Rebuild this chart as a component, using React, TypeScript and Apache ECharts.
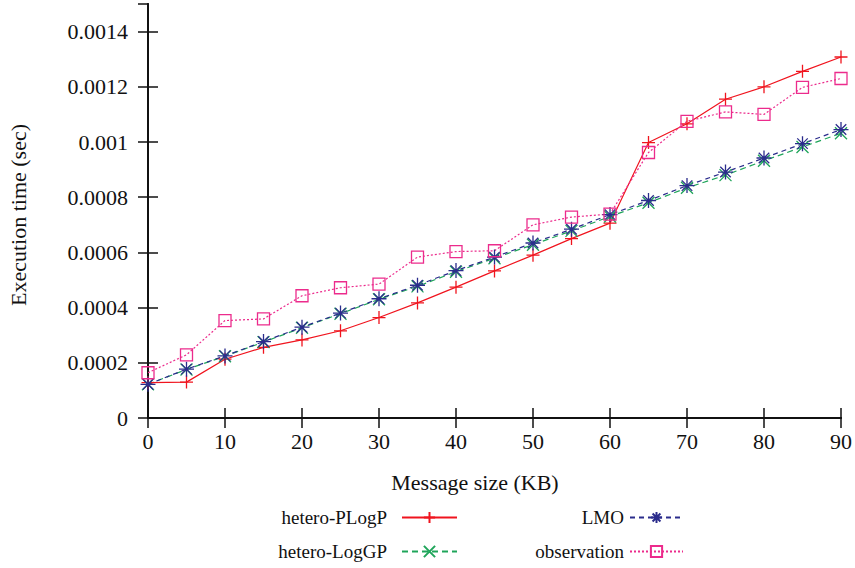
import React, { useEffect, useRef } from "react";
import * as echarts from "echarts";

const messageSizes = [0, 5, 10, 15, 20, 25, 30, 35, 40, 45, 50, 55, 60, 65, 70, 75, 80, 85, 90];
const heteroPLogP = [0.000128, 0.00013, 0.000213, 0.000256, 0.000283, 0.000316, 0.000364, 0.000417, 0.000474, 0.000533, 0.00059, 0.00065, 0.000706, 0.000998, 0.001066, 0.001155, 0.0012, 0.001256, 0.001308];
const heteroLogGP = [0.000122, 0.000176, 0.000224, 0.000275, 0.000327, 0.000378, 0.000430, 0.000477, 0.00053, 0.000579, 0.000628, 0.000678, 0.00073, 0.00078, 0.000834, 0.00088, 0.000932, 0.000982, 0.001032];
const lmo = [0.000122, 0.000177, 0.000225, 0.000277, 0.000329, 0.00038, 0.000432, 0.000481, 0.000534, 0.000583, 0.000634, 0.000684, 0.000737, 0.000788, 0.000842, 0.000891, 0.000942, 0.000994, 0.001045];
const observation = [0.000164, 0.000229, 0.000353, 0.000359, 0.000443, 0.000472, 0.000485, 0.000583, 0.000603, 0.000606, 0.0007, 0.000728, 0.000739, 0.000962, 0.001075, 0.001109, 0.0011, 0.001198, 0.00123];
const xTicks = [0, 10, 20, 30, 40, 50, 60, 70, 80, 90];
const yTicks = [0, 0.0002, 0.0004, 0.0006, 0.0008, 0.001, 0.0012, 0.0014];

const FONT = "Liberation Serif";
const RED = "#f0141e";
const GREEN = "#1fa55a";
const BLUE = "#2b2c8c";
const PINK = "#ec2b8c";

const PLUS = "path://M0,5L10,5M5,0L5,10";
const CROSS = "path://M0,0L10,10M10,0L0,10";
const STAR = "path://M0,5L10,5M5,0L5,10M1.5,1.5L8.5,8.5M8.5,1.5L1.5,8.5";
const SQUARE = "path://M0,0L10,0L10,10L0,10Z";

function pairs(vals: number[]) {
  return messageSizes.map((x, i) => [x, vals[i]]);
}

export default function App() {
  const ref = useRef<HTMLDivElement>(null);
  useEffect(() => {
    if (!ref.current) return;
    const chart = echarts.init(ref.current, null, { renderer: "svg" });
    const axisCommon = {
      axisLine: { show: true, lineStyle: { color: "#111", width: 2 } },
      axisTick: { show: true, inside: true, length: 10, lineStyle: { color: "#111", width: 1.5 } },
      splitLine: { show: false },
    };
    const xCommon = { type: "value", min: 0, max: 90, interval: 10, ...axisCommon };
    const yCommon = { type: "value", min: 0, max: 0.0015, interval: 0.0002, ...axisCommon };
    const mk = (name: string, data: number[], color: string, type: any, symbol: string, size: number) => ({
      name,
      type: "line",
      data: pairs(data),
      symbol,
      symbolSize: size,
      showAllSymbol: true,
      lineStyle: { color, width: 1.2, type },
      itemStyle: { color: "rgba(0,0,0,0)", borderColor: color, borderWidth: 1.3 },
      emphasis: { disabled: true },
    });
    const legendBase = {
      orient: "vertical",
      align: "right",
      padding: 0,
      itemHeight: 14,
      selectedMode: false,
    };
    const leftText = { fontFamily: FONT, fontSize: 19, color: "#111", padding: [0, 10, 0, 0] };
    const rightText = { fontFamily: FONT, fontSize: 19, color: "#111", padding: [0, 1, 0, 0] };
    chart.setOption({
      animation: false,
      backgroundColor: "#fff",
      textStyle: { fontFamily: FONT },
      grid: { left: 148, right: 12, top: 4, bottom: 150 },
      xAxis: [
        {
          ...xCommon,
          position: "bottom",
          axisLabel: { fontFamily: FONT, fontSize: 22, color: "#111", margin: 12,
            formatter: (v: number) => (xTicks.includes(v) ? String(v) : "") },
        },
        { ...xCommon, position: "top", axisLabel: { show: false } },
      ],
      yAxis: [
        {
          ...yCommon,
          position: "left",
          axisLabel: {
            fontFamily: FONT, fontSize: 22, color: "#111", margin: 20, showMaxLabel: false,
            formatter: (v: number) => {
              const r = +v.toFixed(4);
              return yTicks.some((t) => Math.abs(t - r) < 1e-9) ? (r === 0 ? "0" : String(r)) : "";
            },
          },
        },
        { ...yCommon, position: "right", axisLabel: { show: false } },
      ],
      legend: [
        { ...legendBase, itemWidth: 55, textStyle: leftText, data: ["hetero-PLogP"], right: 397, top: 508 },
        { ...legendBase, itemWidth: 55, textStyle: leftText, data: ["hetero-LogGP"], right: 397, top: 542 },
        { ...legendBase, itemWidth: 53, textStyle: rightText, data: ["LMO"], right: 171, top: 508 },
        { ...legendBase, itemWidth: 53, textStyle: rightText, data: ["observation"], right: 171, top: 542 },
      ],
      graphic: [
        {
          type: "text", x: 18, y: 215, rotation: Math.PI / 2,
          style: { text: "Execution time (sec)", font: "22px Liberation Serif", fill: "#111", align: "center", verticalAlign: "middle" },
        },
        {
          type: "text", x: 475, y: 482,
          style: { text: "Message size (KB)", font: "22px Liberation Serif", fill: "#111", align: "center", verticalAlign: "middle" },
        },
      ],
      series: [
        mk("hetero-PLogP", heteroPLogP, RED, "solid", PLUS, 13),
        mk("hetero-LogGP", heteroLogGP, GREEN, [6, 4], CROSS, 12),
        mk("LMO", lmo, BLUE, [5, 4], STAR, 15),
        mk("observation", observation, PINK, [2, 2], SQUARE, 12),
      ],
    });
    return () => chart.dispose();
  }, []);
  return <div ref={ref} style={{ position: "fixed", left: 0, top: 0, width: 855, height: 568 }} />;
}
